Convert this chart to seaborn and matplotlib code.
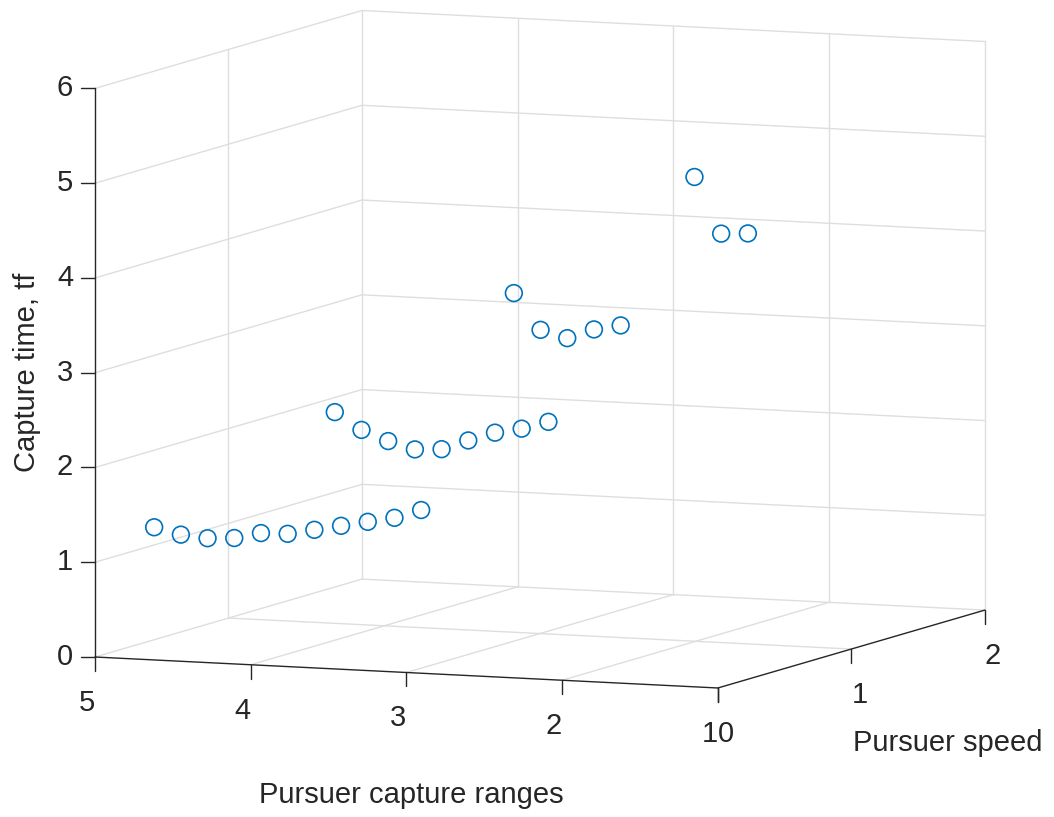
import numpy as np
import pandas as pd
import matplotlib
matplotlib.use("Agg")
import matplotlib.pyplot as plt
import seaborn as sns
from matplotlib.lines import Line2D

# ---- data: capture time for each capture range over pursuer speeds ----
capture_ranges = [4.62, 3.46, 2.31, 1.15]

speeds_r1 = [0.0, 0.2, 0.4, 0.6, 0.8, 1.0, 1.2, 1.4, 1.6, 1.8, 2.0]
times_r1 = [1.40, 1.24, 1.12, 1.04, 1.01, 0.92, 0.88, 0.84, 0.80, 0.76, 0.76]

speeds_r2 = [0.0, 0.2, 0.4, 0.6, 0.8, 1.0, 1.2, 1.4, 1.6]
times_r2 = [2.71, 2.44, 2.24, 2.07, 1.99, 2.00, 2.00, 1.96, 1.95]

speeds_r3 = [0.0, 0.2, 0.4, 0.6, 0.8]
times_r3 = [4.06, 3.59, 3.42, 3.43, 3.39]

speeds_r4 = [0.0, 0.2, 0.4]
times_r4 = [5.38, 4.70, 4.62]

x_ticks = [5, 4, 3, 2, 1]
y_ticks = [0, 1, 2]
z_ticks = [0, 1, 2, 3, 4, 5, 6]

groups = [(capture_ranges[0], speeds_r1, times_r1),
          (capture_ranges[1], speeds_r2, times_r2),
          (capture_ranges[2], speeds_r3, times_r3),
          (capture_ranges[3], speeds_r4, times_r4)]
df = pd.concat([pd.DataFrame({"range": r, "speed": s, "time": t})
                for r, s, t in groups], ignore_index=True)

# ---- style ----
sns.set_theme(style="white")
plt.rcParams["font.family"] = ["Liberation Sans", "DejaVu Sans"]
BLUE = sns.color_palette(["#0072BD"])[0]
AXIS_C = "#262626"
GRID_C = "#dedede"
FS = 21

W, H = 1054, 817
fig = plt.figure(figsize=(W / 100, H / 100), dpi=100)
fig.patch.set_facecolor("white")
ax = fig.add_axes([0, 0, 1, 1], projection="3d", proj_type="ortho")
ax.computed_zorder = False
ax.set_axis_off()

ax.scatter(df["range"], df["speed"], df["time"], s=145, facecolors="none",
           edgecolors=[BLUE], linewidths=1.2, depthshade=False, zorder=5,
           clip_on=False)

# grid on floor (z=0), left wall (x=5) and back wall (y=2)
xl, xh = 5, 1
yl, yh = 0, 2
zl, zh = 0, 6
gkw = dict(color=GRID_C, lw=1.0, zorder=1, clip_on=False)
for xv in [4, 3, 2]:
    ax.plot([xv, xv], [yl, yh], [zl, zl], **gkw)
    ax.plot([xv, xv], [yh, yh], [zl, zh], **gkw)
ax.plot([xl, xh], [1, 1], [zl, zl], **gkw)
ax.plot([xl, xh], [yh, yh], [zl, zl], **gkw)
ax.plot([xl, xl], [yl, yh], [zl, zl], **gkw)
ax.plot([xl, xl], [1, 1], [zl, zh], **gkw)
ax.plot([xl, xl], [yh, yh], [zl, zh], **gkw)
ax.plot([xh, xh], [yh, yh], [zl, zh], **gkw)
for zv in z_ticks[1:]:
    ax.plot([xl, xl], [yl, yh], [zv, zv], **gkw)
    ax.plot([xl, xh], [yh, yh], [zv, zv], **gkw)

# axis lines
akw = dict(color=AXIS_C, lw=1.0, zorder=3, clip_on=False)
ax.plot([xl, xh], [yl, yl], [zl, zl], **akw)
ax.plot([xh, xh], [yl, yh], [zl, zl], **akw)
ax.plot([xl, xl], [yl, yl], [zl, zh], **akw)

ax.set_xlim(5, 1)
ax.set_ylim(0, 2)
ax.set_zlim(0, 6)
ax.view_init(elev=6.92, azim=-67.56)
ASPECT = (1.0, 1.038, 0.85)
ax.set_box_aspect(ASPECT)


def to_px(x, y, z):
    x = np.atleast_1d(np.asarray(x, float))
    y = np.atleast_1d(np.asarray(y, float))
    z = np.atleast_1d(np.asarray(z, float))
    M = ax.get_proj()
    v = M @ np.vstack([x, y, z, np.ones_like(x)])
    xy = np.column_stack([v[0] / v[3], v[1] / v[3]])
    return ax.transData.transform(xy)


# place the box: front-left-bottom corner and back-right-top corner
left_t = np.array([95.0, H - 657.0])
right_t = np.array([987.0, H - 43.0])
fig.canvas.draw()
a = to_px(5, 0, 0)[0]
b = to_px(1, 2, 6)[0]
zoom = 0.5 * ((right_t[0] - left_t[0]) / (b[0] - a[0]) +
              (right_t[1] - left_t[1]) / (b[1] - a[1]))
ax.set_box_aspect(ASPECT, zoom=zoom)
fig.canvas.draw()
a = to_px(5, 0, 0)[0]
pos = ax.get_position()
ax.set_position([pos.x0 + (left_t[0] - a[0]) / W, pos.y0 + (left_t[1] - a[1]) / H,
                 pos.width, pos.height])
fig.canvas.draw()

TICK = 14


def seg(p0, p1):
    fig.add_artist(Line2D([p0[0] / W, p1[0] / W], [p0[1] / H, p1[1] / H],
                          transform=fig.transFigure, color=AXIS_C, lw=1.0))


tkw = dict(fontsize=FS, color=AXIS_C, ha="center", va="center")
for xv in x_ticks:
    p = to_px(xv, 0, 0)[0]
    seg(p, p - [0, TICK])
    fig.text((p[0] - 8) / W, (p[1] - 46) / H, f"{xv}", **tkw)
for yv in y_ticks:
    p = to_px(1, yv, 0)[0]
    seg(p, p - [0, TICK])
    fig.text((p[0] + 8) / W, (p[1] - 46) / H, f"{yv}", **tkw)
for zv in z_ticks:
    p = to_px(5, 0, zv)[0]
    seg(p, p - [TICK, 0])
    fig.text((p[0] - 22) / W, p[1] / H, f"{zv}", fontsize=FS, color=AXIS_C,
             ha="right", va="center")

fig.text(411 / W, 1 - 795 / H, "Pursuer capture ranges", **tkw)
fig.text(948 / W, 1 - 743 / H, "Pursuer speed", **tkw)
fig.text(27 / W, 1 - 372 / H, "Capture time, tf", rotation=90, **tkw)

fig.savefig("out.png", dpi=100, facecolor="white")
